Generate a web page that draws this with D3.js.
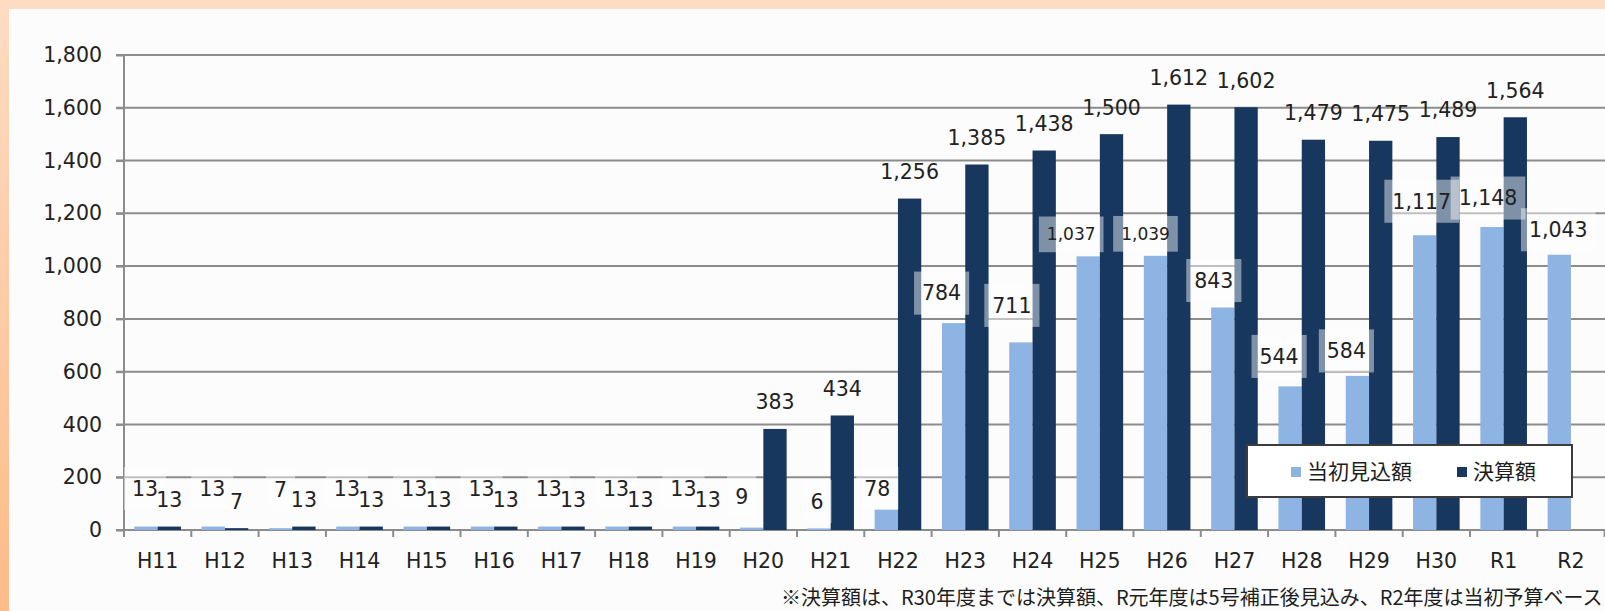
<!DOCTYPE html>
<html>
<head>
<meta charset="utf-8">
<script src="https://cdn.jsdelivr.net/npm/d3@7"></script>
<style>
  body { margin: 0; padding: 0; background: #fff; }
  svg { display: block; }
  .num { font-family: "DejaVu Sans", Verdana, sans-serif; fill: #222; }
  .jp { font-family: "Noto Sans CJK JP", "Noto Sans", sans-serif; fill: #1e1e1e; }
</style>
</head>
<body>
<svg id="chart"></svg>
<script>
// data
const categories = ["H11","H12","H13","H14","H15","H16","H17","H18","H19","H20","H21",
                    "H22","H23","H24","H25","H26","H27","H28","H29","H30","R1","R2"];
const initialEstimate = [13,13,7,13,13,13,13,13,13,9,6,78,784,711,1037,1039,843,544,584,1117,1148,1043];
const settledAmount   = [13,7,13,13,13,13,13,13,13,383,434,1256,1385,1438,1500,1612,1602,1479,1475,1489,1564,null];
const seriesNames = ["当初見込額","決算額"];
const yTicks = [0,200,400,600,800,1000,1200,1400,1600,1800];
const footnote = "※決算額は、R30年度までは決算額、R元年度は5号補正後見込み、R2年度は当初予算ベース";

// hand-moved labels of the first series (offsets from the default spot)
const labelNudge = {
    H11:{dx:-1,dy:-11}, H12:{dx:-1,dy:-11}, H13:{dx:0,dy:-12}, H14:{dx:-1,dy:-11},
    H15:{dx:-1,dy:-11}, H16:{dx:-1,dy:-11}, H17:{dx:-1,dy:-11}, H18:{dx:-1,dy:-11},
    H19:{dx:-1,dy:-11}, H20:{dx:-10,dy:-4}, H21:{dx:-2,dy:0}, H22:{dx:-9,dy:6},
    H23:{dx:-12,dy:-3}, H24:{dx:-9,dy:-10}, H25:{dx:-17,dy:5,size:17}, H26:{dx:-10,dy:5,size:17},
    H27:{dx:-9,dy:0}, H28:{dx:-11,dy:-3}, H29:{dx:-11,dy:2}, H30:{dx:-3,dy:-7},
    R1:{dx:-4,dy:-2}, R2:{dx:-1,dy:2}
};

const W = 1605, H = 611;
const colors = ["#8db4e2", "#17375e"];
const gridColor = "#8c8c8c";
const fontSize = 20.5;

const svg = d3.select("#chart").attr("width", W).attr("height", H);

/** background: peach frame + white panel */
const defs = svg.append("defs");
const grad = defs.append("linearGradient").attr("id", "bgGrad")
    .attr("x1", 0).attr("y1", 0).attr("x2", 0).attr("y2", 1);
grad.append("stop").attr("offset", 0).attr("stop-color", "#fedcc2");
grad.append("stop").attr("offset", 1).attr("stop-color", "#fdbb87");
svg.append("rect").attr("width", W).attr("height", H).attr("fill", "url(#bgGrad)");
svg.append("rect").attr("x", 9).attr("y", 9).attr("width", W - 9).attr("height", H - 9).attr("fill", "#fcfcfc");

const plot = {left: 124, top: 55, bottom: 530, right: 124 + 22 * 67.3};

const x = d3.scaleBand().domain(categories).range([plot.left, plot.right]).padding(0);
const x1 = d3.scaleBand().domain([0, 1]).range([0, x.bandwidth()]).paddingInner(0).paddingOuter(0.444);
const y = d3.scaleLinear().domain([0, 1800]).range([plot.bottom, plot.top]);

/** gridlines */
svg.append("g").selectAll("line").data(yTicks).join("line")
    .attr("x1", plot.left - 8).attr("x2", W)
    .attr("y1", d => y(d)).attr("y2", d => y(d))
    .attr("stroke", gridColor).attr("stroke-width", 2);

/** Y axis (ticks + labels) */
const gy = svg.append("g").attr("transform", `translate(${plot.left},0)`)
    .call(d3.axisLeft(y).tickValues(yTicks).tickFormat(d3.format(",")).tickSize(8).tickPadding(14));
gy.select(".domain").remove();
gy.selectAll(".tick line").attr("stroke", gridColor).attr("stroke-width", 2);
gy.selectAll(".tick text").attr("class", "num").style("font-size", fontSize + "px");
svg.append("line").attr("x1", plot.left).attr("x2", plot.left)
    .attr("y1", plot.top).attr("y2", plot.bottom + 7)
    .attr("stroke", gridColor).attr("stroke-width", 2);

/** X axis: labels at band centres, tick marks between categories */
const gx = svg.append("g").attr("transform", `translate(0,${plot.bottom})`)
    .call(d3.axisBottom(x).tickSize(0).tickPadding(23));
gx.select(".domain").remove();
gx.selectAll(".tick text").attr("class", "num").style("font-size", fontSize + "px");
const bounds = categories.map(c => x(c)).concat([x(categories[categories.length - 1]) + x.bandwidth()]);
svg.append("g").selectAll("line").data(bounds).join("line")
    .attr("x1", d => d).attr("x2", d => d)
    .attr("y1", plot.bottom).attr("y2", plot.bottom + 7)
    .attr("stroke", gridColor).attr("stroke-width", 2);

/** bars */
const series = [initialEstimate, settledAmount];
const rows = [];
series.forEach((vals, s) => {
    vals.forEach((v, i) => {
        if (v !== null) rows.push({s: s, cat: categories[i], v: v});
    });
});

svg.append("g").selectAll("rect").data(rows).join("rect")
    .attr("x", d => x(d.cat) + x1(d.s))
    .attr("y", d => y(d.v))
    .attr("width", x1.bandwidth())
    .attr("height", d => y(0) - y(d.v))
    .attr("fill", d => colors[d.s]);

/** value labels */
const labelG = svg.append("g");
rows.forEach(d => {
    const n = (d.s === 0 && labelNudge[d.cat]) ? labelNudge[d.cat] : {dx: 0, dy: 0};
    const size = n.size || fontSize;
    const cx = x(d.cat) + x1(d.s) + x1.bandwidth() / 2 + n.dx;
    const cy = y(d.v) - 27 + n.dy;
    const g = labelG.append("g");
    const t = g.append("text").attr("class", "num")
        .attr("x", cx).attr("y", cy)
        .attr("text-anchor", "middle").attr("dy", "0.36em")
        .style("font-size", size + "px")
        .text(d3.format(",")(d.v));
    if (d.s === 0) {
        const tw = t.node().getComputedTextLength();
        const bh = size * 2.1;
        g.insert("rect", "text")
            .attr("x", cx - tw / 2 - 8).attr("y", cy - bh / 2)
            .attr("width", tw + 16).attr("height", bh)
            .attr("fill", "#ffffff").attr("fill-opacity", 0.45);
    }
});

/** legend */
const lg = svg.append("g").attr("transform", "translate(1247,445)");
lg.append("rect").attr("width", 325).attr("height", 52)
    .attr("fill", "#ffffff").attr("stroke", "#3c3c3c").attr("stroke-width", 2);
const items = lg.selectAll(".item").data(seriesNames).join("g")
    .attr("class", "item")
    .attr("transform", (d, i) => `translate(${i === 0 ? 44 : 210},27)`);
items.append("rect").attr("x", 0).attr("y", -5).attr("width", 10).attr("height", 10)
    .attr("fill", (d, i) => colors[i]);
items.append("text").attr("class", "jp").attr("x", 16).attr("dy", "0.35em")
    .style("font-size", "21px").text(d => d);

/** footnote (kept inside the frame) */
svg.append("text").attr("class", "jp").attr("x", 781).attr("y", 598)
    .attr("dy", "0.35em").style("font-size", "20px").text(footnote);
</script>
</body>
</html>
